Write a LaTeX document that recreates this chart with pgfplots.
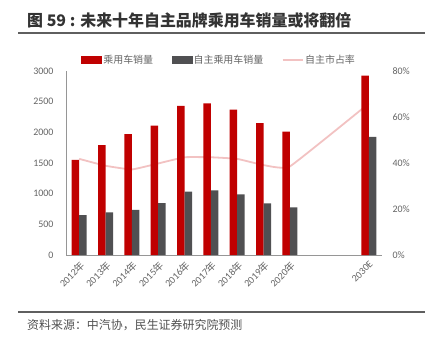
\documentclass[border=0pt]{standalone}
\usepackage{pgfplots}
\pgfplotsset{compat=1.18}
\usepackage{fontspec}
\setmainfont{Carlito}
\newfontfamily\cjk{Noto Sans CJK SC}
\definecolor{cred}{RGB}{192,0,0}
\definecolor{cdark}{RGB}{80,80,82}
\definecolor{cpink}{RGB}{242,194,194}
\definecolor{ctext}{RGB}{100,100,100}
\definecolor{crule}{RGB}{95,95,95}
\definecolor{caxis}{RGB}{150,150,150}
\begin{document}
\begin{tikzpicture}[x=1bp,y=1bp]
\useasboundingbox (0,0) rectangle (439,346);
\node[anchor=west, font=\cjk\bfseries\fontsize{16}{19}\selectfont, text=black!80, inner sep=0] at (27,326) {图 59 : 未来十年自主品牌乘用车销量或将翻倍};
\draw[crule, line width=1.3bp] (18,313) -- (425,313);
\draw[crule, line width=1.3bp] (18,34) -- (425,34);
\node[anchor=west, font=\cjk\fontsize{12}{14}\selectfont, text=ctext!80!black, inner sep=0] at (27,21) {资料来源：中汽协，民生证券研究院预测};

% right axis with share line (drawn first, behind bars)
\begin{axis}[at={(66bp,91bp)}, anchor=south west, scale only axis,
  width=316bp, height=184bp,
  xmin=-0.5, xmax=11.5, ymin=0, ymax=80,
  axis y line*=right, axis x line=none,
  y axis line style={draw=none},
  ytick={0,20,40,60,80},
  yticklabel={\pgfmathprintnumber{\tick}\%},
  major tick length=0,
  /pgf/number format/assume math mode=true,
  yticklabel style={font=\fontsize{10}{12}\selectfont, text=ctext, anchor=west, xshift=7bp},
]
\addplot[cpink, line width=1.8bp, smooth, tension=0.2] coordinates {
  (0,41.8) (1,38.8) (2,37.2) (3,39.8) (4,42.5) (5,42.5) (6,41.8) (7,39.1) (8,38.5) (11,65.9)
};
\end{axis}

% left axis with bars
\begin{axis}[at={(66bp,91bp)}, anchor=south west, scale only axis,
  width=316bp, height=184bp,
  xmin=-0.5, xmax=11.5, ymin=0, ymax=3000,
  axis x line*=bottom, axis y line*=left,
  axis line style={caxis, line width=1bp},
  every inner x axis line/.append style={-},
  every inner y axis line/.append style={-},
  xtick={0,1,2,3,4,5,6,7,8,11},
  xticklabels={2012{\cjk 年},2013{\cjk 年},2014{\cjk 年},2015{\cjk 年},2016{\cjk 年},2017{\cjk 年},2018{\cjk 年},2019{\cjk 年},2020{\cjk 年},2030E},
  ytick={0,500,...,3000},
  major tick length=0,
  /pgf/number format/1000 sep={},
  /pgf/number format/assume math mode=true,
  yticklabel style={font=\fontsize{10}{12}\selectfont, text=ctext, anchor=east, xshift=-9bp},
  xticklabel shift=3bp,
  xticklabel style={font=\fontsize{10}{12}\selectfont, text=ctext, rotate=45, anchor=north east, inner sep=1.5bp},
  legend columns=3,
  legend style={draw=none, fill=none, at={(0.484,1.06)}, anchor=center,
    font=\cjk\fontsize{10}{12}\selectfont, text=ctext,
    /tikz/every even column/.append style={column sep=17bp},
    nodes={inner sep=1.5bp}},
]
\addplot[ybar, bar width=7.5bp, bar shift=-3.75bp, fill=cred, draw=none, forget plot] coordinates {
  (0,1550) (1,1790) (2,1970) (3,2110) (4,2430) (5,2474) (6,2370) (7,2149) (8,2012) (11,2924)
};
\addplot[ybar, bar width=7.5bp, bar shift=3.75bp, fill=cdark, draw=none, forget plot] coordinates {
  (0,650) (1,695) (2,735) (3,846) (4,1035) (5,1052) (6,990) (7,840) (8,775) (11,1926)
};
\addlegendimage{legend image code/.code={\fill[cred] (0bp,-3.5bp) rectangle (20bp,3.5bp);}}
\addlegendentry{乘用车销量}
\addlegendimage{legend image code/.code={\fill[cdark] (0bp,-3.5bp) rectangle (20bp,3.5bp);}}
\addlegendentry{自主乘用车销量}
\addlegendimage{legend image code/.code={\draw[cpink, line width=1.8bp] (0bp,0bp) -- (20bp,0bp);}}
\addlegendentry{自主市占率}
\end{axis}
\end{tikzpicture}
\end{document}
